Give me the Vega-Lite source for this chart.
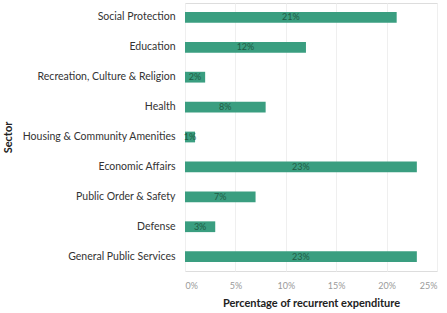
{
  "$schema": "https://vega.github.io/schema/vega-lite/v6.json",
  "autosize": {"type": "none"},
  "width": 252,
  "height": 268,
  "padding": {"left": 185, "top": 3, "right": 10, "bottom": 42},
  "background": "white",
  "data": {"values": [
    {"sector": "Social Protection", "pct": 21, "label": "21%"},
    {"sector": "Education", "pct": 12, "label": "12%"},
    {"sector": "Recreation, Culture & Religion", "pct": 2, "label": "2%"},
    {"sector": "Health", "pct": 8, "label": "8%"},
    {"sector": "Housing & Community Amenities", "pct": 1, "label": "1%"},
    {"sector": "Economic Affairs", "pct": 23, "label": "23%"},
    {"sector": "Public Order & Safety", "pct": 7, "label": "7%"},
    {"sector": "Defense", "pct": 3, "label": "3%"},
    {"sector": "General Public Services", "pct": 23, "label": "23%"}
  ]},
  "encoding": {
    "y": {"field": "sector", "type": "nominal", "sort": null,
      "scale": {"paddingInner": 0.64, "paddingOuter": 0.3},
      "axis": {"title": "Sector", "domain": false, "ticks": false, "labelPadding": 10,
        "labelFont": "Lato", "labelFontSize": 10.5, "labelColor": "#333333",
        "titleFont": "Lato", "titleFontSize": 11, "titleFontWeight": "bold", "titleColor": "#222",
        "titleX": -172, "titleY": 134, "titleAngle": -90}
    }
  },
  "resolve": {"scale": {"x": "independent"}},
  "layer": [
    {
      "mark": {"type": "bar", "color": "#3a9e80"},
      "encoding": {
        "x": {"field": "pct", "type": "quantitative",
          "scale": {"domain": [0, 25], "nice": false},
          "axis": {"values": [0, 5, 10, 15, 20, 25], "labelExpr": "datum.value + '%'",
            "title": "Percentage of recurrent expenditure", "domain": false, "ticks": false,
            "grid": true, "gridColor": "#efefef", "labelPadding": 10,
            "labelFont": "Lato", "labelFontSize": 9, "labelColor": "#9a9a9a",
            "titleFont": "Lato", "titleFontSize": 11, "titleFontWeight": "bold", "titleColor": "#222",
            "titleY": 26}
        }
      }
    },
    {
      "mark": {"type": "text", "color": "#1f5c45", "font": "Lato", "fontSize": 9, "baseline": "middle"},
      "encoding": {
        "x": {"field": "pct", "type": "quantitative", "scale": {"domain": [0, 50], "nice": false}, "axis": null},
        "text": {"field": "label", "type": "nominal"}
      }
    }
  ]
}
